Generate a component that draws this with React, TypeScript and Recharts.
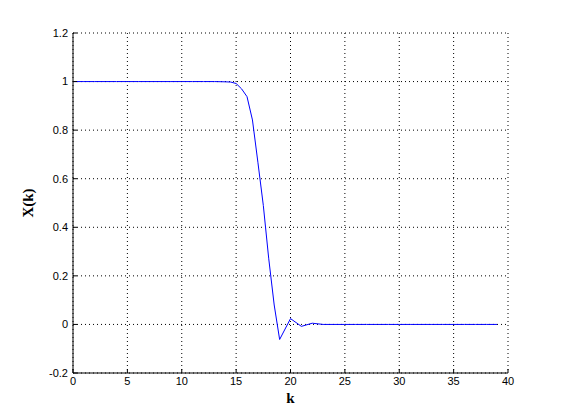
import { LineChart, Line, XAxis, YAxis, CartesianGrid, Label } from "recharts";

// values
const kValues = [
  0, 1, 2, 3, 4, 5, 6, 7, 8, 9, 10, 11, 12, 13, 14, 14.5, 15, 15.5, 16, 16.5,
  17, 17.5, 18, 18.5, 19, 20, 21, 22, 23, 24, 25, 26, 27, 28, 29, 30, 31, 32,
  33, 34, 35, 36, 37, 38, 39,
];
const xkValues = [
  1, 1, 1, 1, 1, 1, 1, 1, 1, 1, 1, 1, 1, 1, 0.999, 0.998, 0.992, 0.97, 0.938,
  0.842, 0.668, 0.49, 0.27, 0.08, -0.062, 0.024, -0.008, 0.005, 0, 0, 0, 0, 0,
  0, 0, 0, 0, 0, 0, 0, 0, 0, 0, 0, 0,
];
const xTicks = [0, 5, 10, 15, 20, 25, 30, 35, 40];
const yTicks = [-0.2, 0, 0.2, 0.4, 0.6, 0.8, 1, 1.2];

const data = kValues.map((k, i) => ({ k, xk: xkValues[i] }));

const tickFont = { fontFamily: "'Liberation Sans', Arial, sans-serif", fontSize: 11, fill: "#000" };
const labelFont = { fontFamily: "'Liberation Serif', 'Times New Roman', serif", fontSize: 15, fontWeight: "bold", fill: "#000" };
const TICK = 4;

function BottomTick({ x, y, payload }: any) {
  return (
    <g>
      <line x1={x} x2={x} y1={y - 4} y2={y - 4 - TICK} stroke="#000" />
      <text x={x} y={y} dy="0.71em" textAnchor="middle" {...tickFont}>
        {payload.value}
      </text>
    </g>
  );
}

function LeftTick({ x, y, payload }: any) {
  return (
    <g>
      <line x1={x + 5} x2={x + 5 + TICK} y1={y} y2={y} stroke="#000" />
      <text x={x} y={y} dy="0.355em" textAnchor="end" {...tickFont}>
        {String(payload.value)}
      </text>
    </g>
  );
}

function TopTick({ x, y }: any) {
  return <line x1={x} x2={x} y1={y} y2={y + TICK} stroke="#000" />;
}

function RightTick({ x, y }: any) {
  return <line x1={x} x2={x - TICK} y1={y} y2={y} stroke="#000" />;
}

export default function App() {
  return (
    <div style={{ position: "absolute", left: 0, top: 0, background: "#fff" }}>
      <LineChart width={561} height={420} data={data} margin={{ top: 33, right: 53, left: 0, bottom: 0 }}>
        <CartesianGrid stroke="#000" strokeDasharray="1 3" horizontalPoints={undefined} />
        <XAxis
          dataKey="k"
          type="number"
          domain={[0, 40]}
          ticks={xTicks}
          height={47}
          tickSize={0}
          tickMargin={4}
          axisLine={{ stroke: "#000" }}
          tick={<BottomTick />}
          interval={0}
        >
          <Label value="k" position="insideBottom" offset={17} style={labelFont} />
        </XAxis>
        <XAxis
          xAxisId="top"
          dataKey="k"
          type="number"
          orientation="top"
          domain={[0, 40]}
          ticks={xTicks}
          height={0}
          tickSize={0}
          tickMargin={0}
          axisLine={{ stroke: "#000" }}
          tick={<TopTick />}
          interval={0}
        />
        <YAxis
          type="number"
          domain={[-0.2, 1.2]}
          ticks={yTicks}
          width={73}
          tickSize={0}
          tickMargin={5}
          axisLine={{ stroke: "#000" }}
          tick={<LeftTick />}
          interval={0}
        >
          <Label value="X(k)" angle={-90} position="insideLeft" offset={28} style={{ ...labelFont, textAnchor: "middle" }} />
        </YAxis>
        <YAxis
          yAxisId="right"
          type="number"
          orientation="right"
          domain={[-0.2, 1.2]}
          ticks={yTicks}
          width={0}
          tickSize={0}
          tickMargin={0}
          axisLine={{ stroke: "#000" }}
          tick={<RightTick />}
          interval={0}
        />
        <Line
          type="linear"
          dataKey="xk"
          stroke="#0000ff"
          strokeWidth={1}
          dot={false}
          isAnimationActive={false}
        />
      </LineChart>
    </div>
  );
}
